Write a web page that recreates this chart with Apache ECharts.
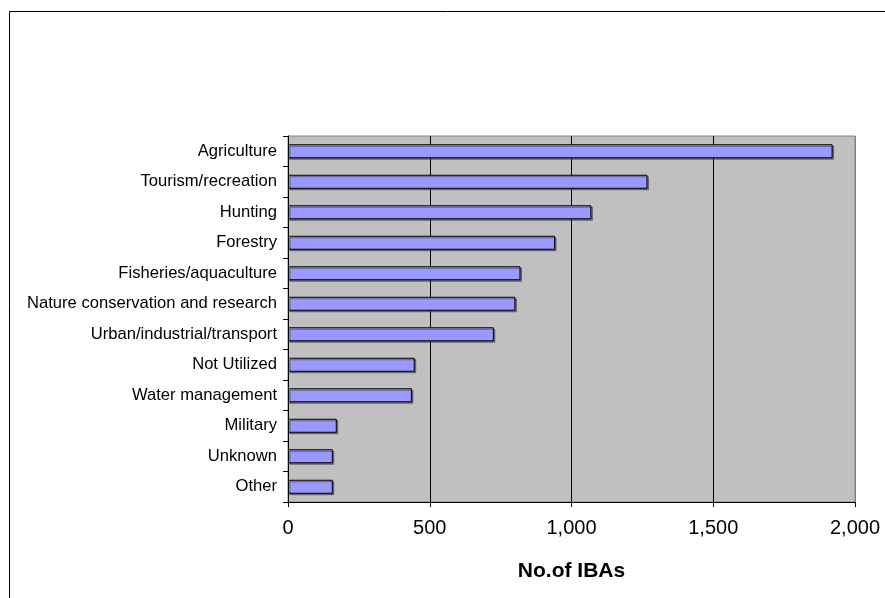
<!DOCTYPE html>
<html>
<head>
<meta charset="utf-8">
<script src="https://cdn.jsdelivr.net/npm/echarts@6/dist/echarts.min.js"></script>
<style>
  html, body { margin: 0; padding: 0; background: #fff; }
  #chart { width: 885px; height: 598px; }
</style>
</head>
<body>
<div id="chart"></div>
<script>
// Land uses at Important Bird Areas, listed top to bottom
const categories = [
  'Agriculture',
  'Tourism/recreation',
  'Hunting',
  'Forestry',
  'Fisheries/aquaculture',
  'Nature conservation and research',
  'Urban/industrial/transport',
  'Not Utilized',
  'Water management',
  'Military',
  'Unknown',
  'Other'
];
// Number of IBAs per land use
const ibaCounts = [1921, 1268, 1070, 942, 820, 802, 726, 447, 437, 172, 158, 158];
// Value axis range and step
const xMin = 0;
const xMax = 2000;
const xStep = 500;
const xAxisTitle = 'No.of IBAs';

const FONT = '"Liberation Sans", Arial, sans-serif';
const chart = echarts.init(document.getElementById('chart'), null, { renderer: 'canvas' });

chart.setOption({
  animation: false,
  backgroundColor: '#ffffff',
  graphic: [{
    type: 'rect',
    shape: { x: 9.5, y: 11.5, width: 900, height: 620 },
    style: { fill: 'none', stroke: '#000', lineWidth: 1 },
    z: -1
  }],
  grid: {
    left: 288, right: 30, top: 136, bottom: 96,
    show: true,
    backgroundColor: '#C0C0C0',
    borderColor: '#808080',
    borderWidth: 1
  },
  xAxis: {
    type: 'value',
    min: xMin, max: xMax, interval: xStep,
    name: xAxisTitle,
    nameLocation: 'middle',
    nameGap: 59,
    nameTextStyle: { fontFamily: FONT, fontSize: 21, fontWeight: 'bold', color: '#000' },
    axisLine: { show: true, lineStyle: { color: '#000', width: 1 } },
    axisTick: { show: true, length: 5, lineStyle: { color: '#000' } },
    axisLabel: {
      margin: 16,
      fontFamily: FONT, fontSize: 20, color: '#000',
      formatter: v => v.toLocaleString('en-US')
    },
    splitLine: {
      show: true,
      lineStyle: { color: ['#000', '#000', '#000', '#000', '#808080'], width: 1 }
    }
  },
  yAxis: {
    type: 'category',
    data: categories,
    inverse: true,
    axisLine: { show: true, lineStyle: { color: '#000', width: 1 } },
    axisTick: { show: true, length: 5, lineStyle: { color: '#000' } },
    axisLabel: { margin: 11, fontFamily: FONT, fontSize: 16.6, color: '#000' },
    splitLine: { show: false }
  },
  series: [{
    type: 'bar',
    data: ibaCounts,
    barWidth: 14,
    itemStyle: {
      color: '#9999FF',
      borderColor: '#000',
      borderWidth: 1,
      shadowColor: 'rgba(60,60,60,0.6)',
      shadowOffsetX: 1.5,
      shadowOffsetY: 1.5,
      shadowBlur: 0
    }
  }]
});
</script>
</body>
</html>
